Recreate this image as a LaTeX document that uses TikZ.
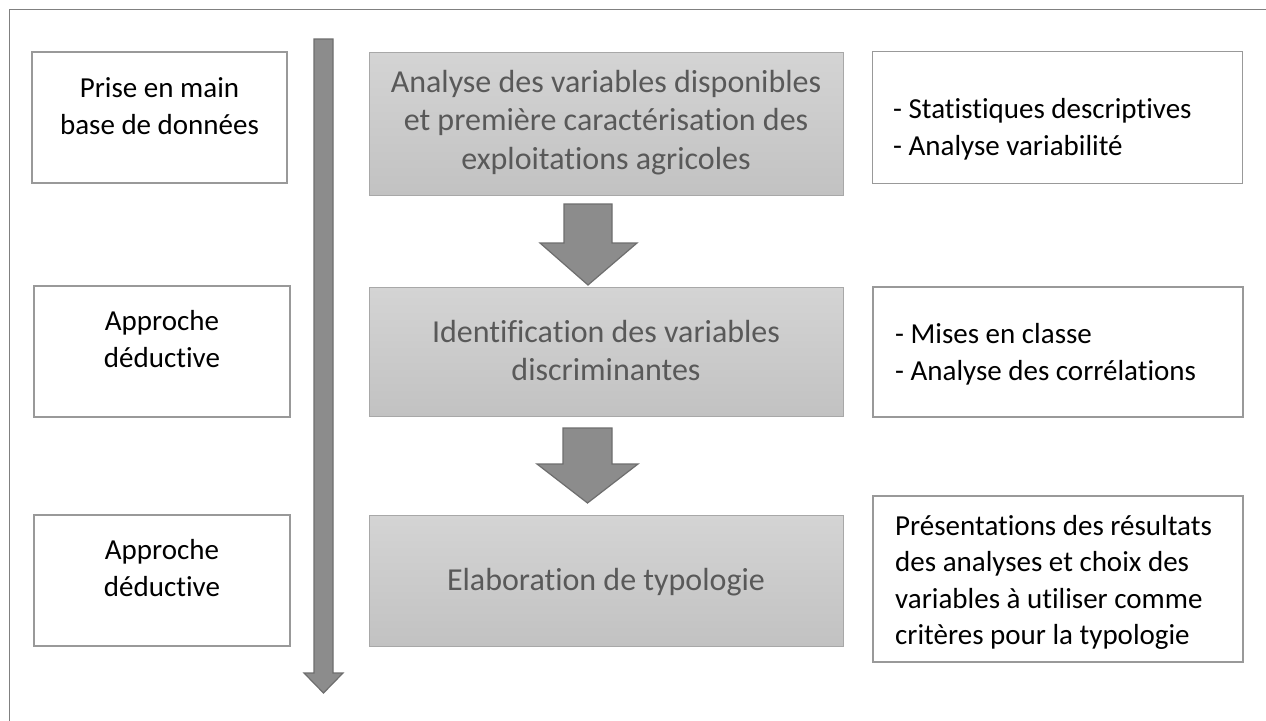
\documentclass[tikz,border=0pt]{standalone}
\usepackage{fontspec}
\setmainfont{Carlito}[Ligatures={NoCommon,NoContextual}]
\definecolor{framegray}{HTML}{808080}
\definecolor{sideborder}{HTML}{999999}
\definecolor{midborder}{HTML}{A8A8A8}
\definecolor{midtop}{HTML}{D4D4D4}
\definecolor{midbot}{HTML}{C2C2C2}
\definecolor{midtext}{HTML}{595959}
\definecolor{arrowfill}{HTML}{8C8C8C}
\definecolor{arrowdraw}{HTML}{6E6E6E}
\newcommand\mylines[2]{\begin{tabular}[t]{@{}#1@{}}#2\end{tabular}}
\tikzset{
  sidebox/.style={draw=sideborder, line width=1.6pt, fill=white, inner sep=0pt},
  midbox/.style={draw=midborder, line width=0.9pt, top color=midtop, bottom color=midbot, inner sep=0pt},
  sidetext/.style={anchor=base, inner sep=0pt, font=\fontsize{29}{37.5}\selectfont, text=black},
  midtext/.style={anchor=base, inner sep=0pt, font=\fontsize{32}{38.5}\selectfont, text=midtext},
  blockarrow/.style={fill=arrowfill, draw=arrowdraw, line width=1.2pt, line join=miter},
}
\begin{document}
\begin{tikzpicture}[x=1pt, y=-1pt]
\useasboundingbox (0,0) rectangle (1266,720);
\fill[white] (0,0) rectangle (1266,720);
% outer frame (top and left edges visible)
\draw[framegray, line width=1.4pt] (9.5,730) -- (9.5,9.5) -- (1276,9.5);

% long vertical arrow
\draw[blockarrow] (314,39) -- (333,39) -- (333,673) -- (343,673) -- (323.5,693) -- (304,673) -- (314,673) -- cycle;

% left boxes
\node[sidebox, minimum width=255pt, minimum height=131pt] (l1) at (159.5,117.5) {};
\node[sidebox, minimum width=256pt, minimum height=131pt] (l2) at (162,351.5) {};
\node[sidebox, minimum width=256pt, minimum height=131pt] (l3) at (162,580.5) {};
\node[sidetext] (tl1) at (159.5,97) {\mylines{c}{Prise en main\\base de données}};
\node[sidetext] (tl2) at (162,330) {\mylines{c}{Approche\\déductive}};
\node[sidetext] (tl3) at (162,559) {\mylines{c}{Approche\\déductive}};

% middle boxes
\node[midbox, minimum width=474pt, minimum height=143pt] (m1) at (606,123.5) {};
\node[midbox, minimum width=474pt, minimum height=129pt] (m2) at (606,351.5) {};
\node[midbox, minimum width=474pt, minimum height=131pt] (m3) at (606,580.5) {};
\node[midtext] (tm1) at (606,92) {\mylines{c}{Analyse des variables disponibles\\et première caractérisation des\\exploitations agricoles}};
\node[midtext] (tm2) at (606,342) {\mylines{c}{Identification des variables\\discriminantes}};
\node[midtext] (tm3) at (606,590) {Elaboration de typologie};

% block arrows between middle boxes
\draw[blockarrow] (564,204) -- (612,204) -- (612,243) -- (637,243) -- (588,285) -- (540,243) -- (564,243) -- cycle;
\draw[blockarrow] (563,428) -- (612,428) -- (612,464) -- (638,464) -- (587.5,503) -- (537,464) -- (563,464) -- cycle;

% right boxes
\node[sidebox, minimum width=370pt, minimum height=132pt] (r1) at (1057.5,117.5) {};
\node[sidebox, minimum width=370pt, minimum height=130pt] (r2) at (1058,352) {};
\node[sidebox, minimum width=370pt, minimum height=166pt] (r3) at (1058,579) {};
\node[sidetext, anchor=base west] (tr1) at (893,118) {\mylines{l}{- Statistiques descriptives\\- Analyse variabilité}};
\node[sidetext, anchor=base west] (tr2) at (895,343) {\mylines{l}{- Mises en classe\\- Analyse des corrélations}};
\node[sidetext, anchor=base west, font=\fontsize{29}{36.5}\selectfont] (tr3) at (895,535) {\mylines{l}{Présentations des résultats\\des analyses et choix des\\variables à utiliser comme\\critères pour la typologie}};
\end{tikzpicture}
\end{document}
